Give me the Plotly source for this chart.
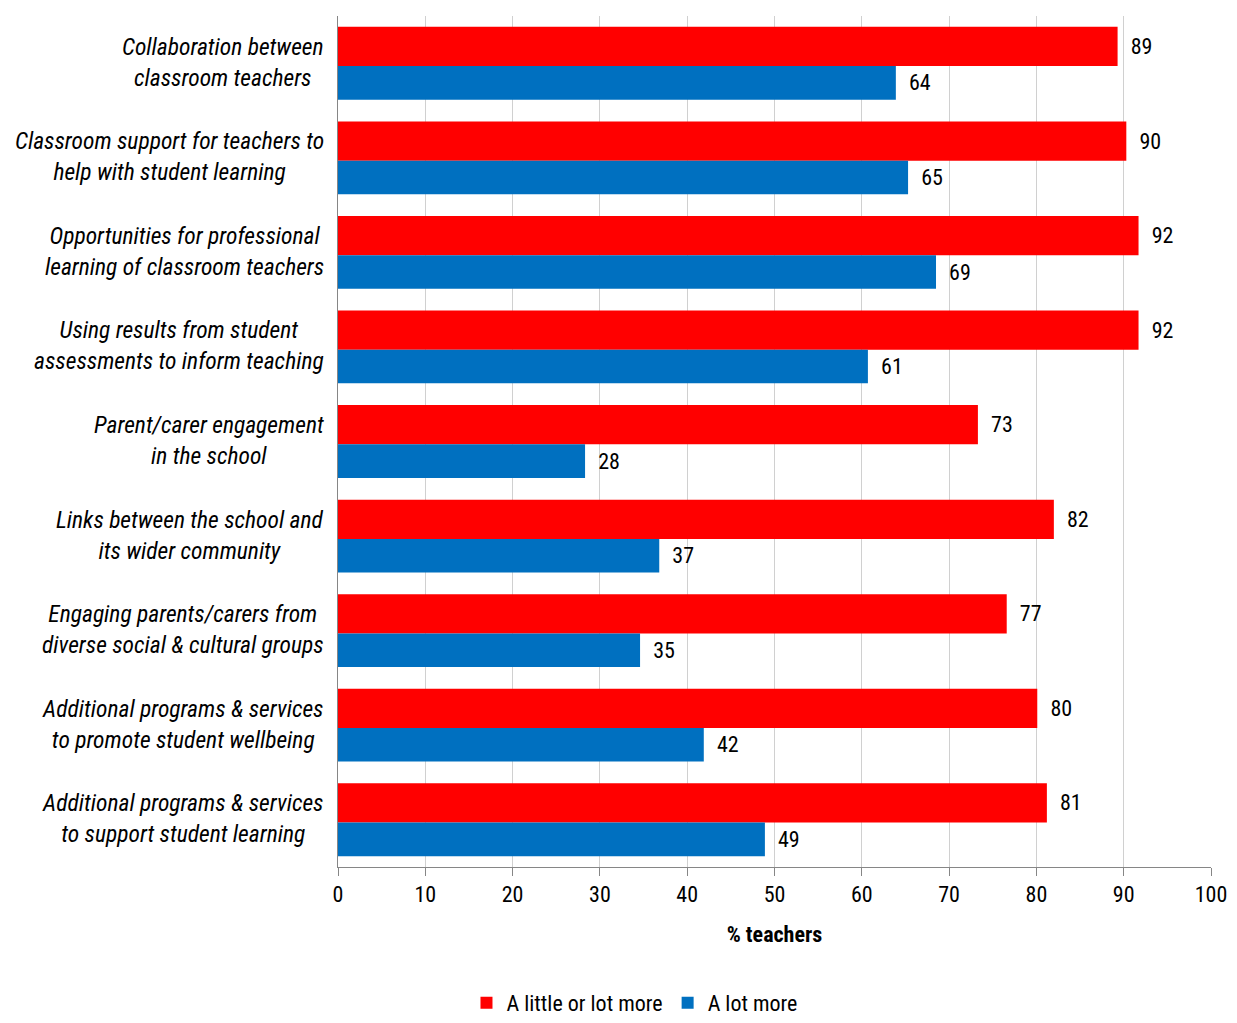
import plotly.graph_objects as go

categories = [
    "Collaboration between<br>classroom teachers",
    "Classroom support for teachers to<br>help with student learning",
    "Opportunities for professional<br>learning of classroom teachers",
    "Using results from student<br>assessments to inform teaching",
    "Parent/carer engagement<br>in the school",
    "Links between the school and<br>its wider community",
    "Engaging parents/carers from<br>diverse social & cultural groups",
    "Additional programs & services<br>to promote student wellbeing",
    "Additional programs & services<br>to support student learning",
]
little_or_lot_more = [89.3, 90.3, 91.7, 91.7, 73.3, 82.0, 76.6, 80.1, 81.2]
a_lot_more = [63.9, 65.3, 68.5, 60.7, 28.3, 36.8, 34.6, 41.9, 48.9]
x_ticks = [0, 10, 20, 30, 40, 50, 60, 70, 80, 90, 100]

FONT = "Roboto Condensed, Liberation Sans Narrow, DejaVu Sans Condensed, sans-serif"
RED = "#ff0000"
BLUE = "#0070c0"

fig = go.Figure()
fig.add_trace(go.Bar(
    y=categories, x=little_or_lot_more, orientation="h", name="A little or lot more",
    marker=dict(color=RED, line=dict(width=0)),
    width=0.415, offset=-0.385,
    text=little_or_lot_more, texttemplate="  %{x:.0f}", textposition="outside",
    textfont=dict(family=FONT, size=22, color="black"), cliponaxis=False,
))
fig.add_trace(go.Bar(
    y=categories, x=a_lot_more, orientation="h", name="A lot more",
    marker=dict(color=BLUE, line=dict(width=0)),
    width=0.355, offset=0.03,
    text=a_lot_more, texttemplate="  %{x:.0f}", textposition="outside",
    textfont=dict(family=FONT, size=22, color="black"), cliponaxis=False,
))

for c in categories:
    fig.add_annotation(
        x=0, xref="paper", y=c, yref="y", xanchor="right", yanchor="middle",
        xshift=-12, yshift=1, text="<i>" + c + "</i>", showarrow=False, align="center",
        font=dict(family=FONT, size=23.5, color="black"),
    )

fig.update_layout(
    width=1221, height=1007, autosize=False,
    margin=dict(l=330, r=18, t=8, b=148, autoexpand=False),
    barmode="overlay",
    plot_bgcolor="white", paper_bgcolor="white",
    font=dict(family=FONT, size=22, color="black"),
    showlegend=True,
    legend=dict(orientation="h", xref="container", x=0.3755, xanchor="left",
                yref="container", y=0.012, yanchor="middle",
                font=dict(family=FONT, size=22, color="black"),
                itemwidth=30, tracegroupgap=0),
    xaxis=dict(range=[0, 100], tickvals=x_ticks, showgrid=True, gridcolor="#d0d0d0",
               gridwidth=1, showline=True, linecolor="#868686", linewidth=1,
               ticks="outside", ticklen=8, tickcolor="#868686", zeroline=False,
               automargin=False,
               tickfont=dict(family=FONT, size=22, color="black"),
               title=dict(text="<b>% teachers</b>", standoff=20,
                          font=dict(family=FONT, size=22, color="black"))),
    yaxis=dict(categoryorder="array", categoryarray=categories, autorange="reversed",
               showticklabels=False, showline=True, linecolor="#868686", linewidth=1,
               showgrid=False, ticks="", automargin=False),
)

fig.write_html("out.html")
